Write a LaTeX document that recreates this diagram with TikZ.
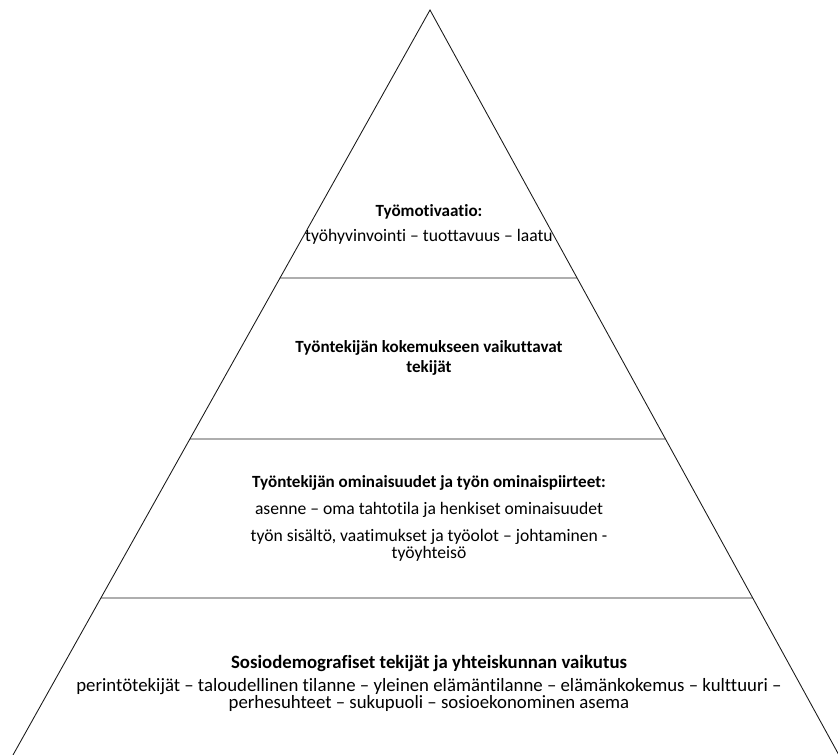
\documentclass[tikz,border=0pt]{standalone}
\usepackage{fontspec}
\setmainfont{Carlito}[Ligatures={NoCommon}]
\usetikzlibrary{calc,decorations.pathmorphing}
\newlength\sdwidth
\begin{document}
\begin{tikzpicture}[x=0.75pt,y=-0.75pt,
  txt/.style={inner sep=0pt,anchor=base,font=\fontsize{13.2}{16}\selectfont},
  ttl/.style={txt,font=\fontsize{12.8}{16}\selectfont\bfseries},
  bigtxt/.style={txt,font=\fontsize{14.1}{17}\selectfont},
  bigttl/.style={txt,font=\fontsize{14.1}{17}\selectfont\bfseries},
  edge/.style={draw=black!90,line width=0.65pt}]
\useasboundingbox (0,0) rectangle (838,755);
\coordinate (apex) at (430,10);
\coordinate (bl) at (13,755);
\coordinate (br) at (840,757);
\draw[edge] (bl) -- (apex) -- (br);
% dividing lines
\coordinate (l1a) at ($(apex)!{(278-10)/745}!(bl)$);
\coordinate (l1b) at ($(apex)!{(278-10)/747}!(br)$);
\coordinate (l2a) at ($(apex)!{(439-10)/745}!(bl)$);
\coordinate (l2b) at ($(apex)!{(439-10)/747}!(br)$);
\coordinate (l3a) at ($(apex)!{(598-10)/745}!(bl)$);
\coordinate (l3b) at ($(apex)!{(598-10)/747}!(br)$);
\draw[edge] (l1a) -- (l1b);
\draw[edge] (l2a) -- (l2b);
\draw[edge] (l3a) -- (l3b);
% level 1
\node[ttl] (t1) at (429,217) {Työmotivaatio:};
\node[txt] (s1) at (429,242) {työhyvinvointi – tuottavuus – laatu};
% level 2
\node[ttl] (t2a) at (429,353) {Työntekijän kokemukseen vaikuttavat};
\node[ttl] (t2b) at (429,372) {tekijät};
% level 3
\node[ttl] (t3) at (429,487) {Työntekijän ominaisuudet ja työn ominaispiirteet:};
\node[txt] (s3a) at (429,514) {asenne – oma tahtotila ja henkiset ominaisuudet};
\node[txt] (s3b) at (429,541) {työn sisältö, vaatimukset ja työolot – johtaminen -};
\node[txt] (s3c) at (429,558) {työyhteisö};
% level 4
\node[bigttl] (t4) at (429,668) {Sosiodemografiset tekijät ja yhteiskunnan vaikutus};
\node[bigtxt] (s4a) at (429,691) {perintötekijät – taloudellinen tilanne – yleinen elämäntilanne – elämänkokemus – kulttuuri –};
\node[bigtxt] (s4b) at (429,708) {perhesuhteet – sukupuoli – sosioekonominen asema};
\settowidth\sdwidth{\fontsize{14.1}{17}\selectfont\bfseries Sosiodemografiset}
\coordinate (w1) at ($(t4.base west)+(0,4)$);
\coordinate (w2) at ($(t4.base west)+(\sdwidth,4)$);
\draw[red!85!black,line width=0.5pt,decorate,decoration={snake,amplitude=0.8pt,segment length=3pt}] (w1) -- (w2);
\end{tikzpicture}
\end{document}
